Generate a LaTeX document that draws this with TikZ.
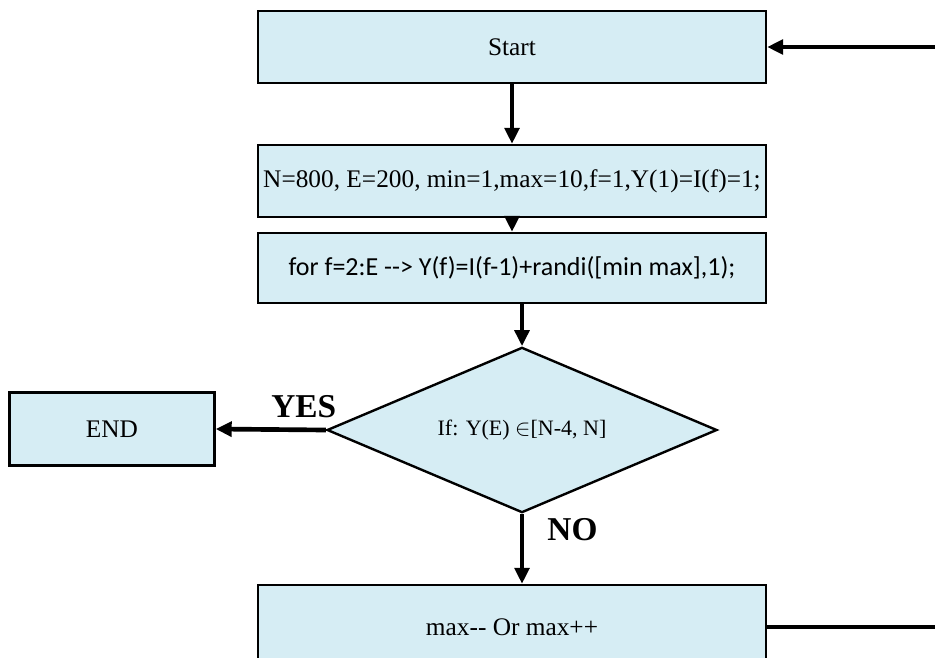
\documentclass[tikz,border=0pt]{standalone}
\usepackage{fontspec}
\setmainfont{Liberation Serif}
\newfontfamily\calfont{Carlito}
\usetikzlibrary{arrows.meta,shapes.geometric}
\definecolor{boxB}{RGB}{214,237,244}

\begin{document}
\begin{tikzpicture}[x=0.75pt,y=-0.75pt,>={Triangle[length=12pt,width=11pt]},
  box/.style={draw,line width=1.8pt,fill=boxB,minimum width=381pt,minimum height=54pt,inner sep=0pt,font=\fontsize{19}{22}\selectfont},
  flow/.style={->,line width=3.5pt},
  lbl/.style={font=\fontsize{25}{28}\selectfont\bfseries}]
\useasboundingbox (0,0) rectangle (935,657);
\clip (0,0) rectangle (935,657);
\node[box] (start) at (512,47) {Start};
\node[box] (init) at (512,181) {N=800, E=200, min=1,max=10,f=1,Y(1)=I(f)=1;};
\node[box,minimum height=52.5pt,font=\calfont\fontsize{19.5}{22}\selectfont] (loop) at (512,268) {for f=2:E -{}-> Y(f)=I(f-1)+randi([min max],1);};
\node[draw,line width=1.8pt,fill=boxB,diamond,aspect=2.36,minimum width=292.5pt,minimum height=124pt,inner sep=0pt,font=\fontsize{16.5}{19}\selectfont] (test) at (522,430) {If: Y(E) $\in$[N-4, N]};
\node[box,minimum width=153.75pt,minimum height=54.75pt] (stop) at (112,429) {END};
\node[box,minimum height=63pt] (adjust) at (512,627) {max-{}- Or max++};
\coordinate (back1) at (935,47);
\coordinate (back2) at (935,627);
% connectors
\draw[flow] (back1) -- (start.east);
\draw[flow] (start) -- (init);
\draw[flow] (init) -- (loop);
\draw[flow] (loop.south -| test.north) -- (test.north);
\draw[flow] (test.west) -- (stop.east) node[lbl,pos=0.2,above=4pt] {YES};
\draw[flow] (test.south) -- (test.south |- adjust.north) node[lbl,pos=0.22,right=14pt] {NO};
\draw[line width=3.5pt] (adjust.east) -- (back2);
\end{tikzpicture}
\end{document}
